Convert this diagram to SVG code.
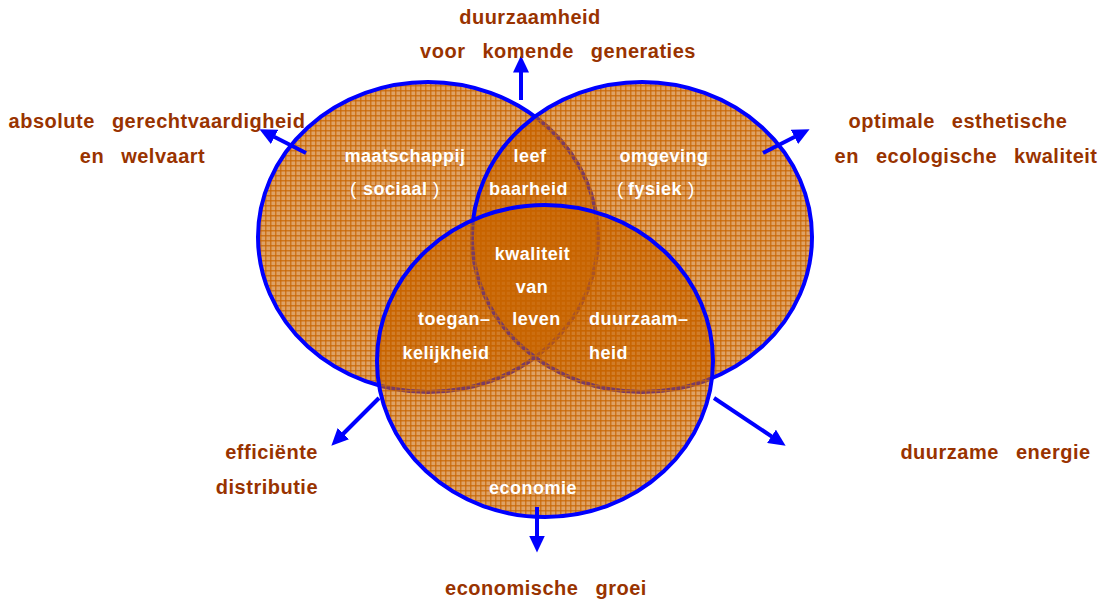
<svg xmlns="http://www.w3.org/2000/svg" width="1098" height="600" viewBox="0 0 1098 600">
  <defs>
    <!-- woven orange texture: translucent base with denser threads -->
    <pattern id="weave" width="5" height="5" patternUnits="userSpaceOnUse">
      <rect width="5" height="5" fill="#C86400" fill-opacity="0.6"/>
      <rect x="0" y="0" width="1.5" height="5" fill="#C86400" fill-opacity="0.72"/>
      <rect x="0" y="0" width="5" height="1.5" fill="#C86400" fill-opacity="0.72"/>
    </pattern>
    <marker id="head" markerUnits="userSpaceOnUse" markerWidth="17" markerHeight="16" viewBox="0 0 17 16" refX="0.5" refY="8" orient="auto">
      <path d="M0,0 L17,8 L0,16 z" fill="#0000FF"/>
    </marker>
    <style>
      .ring { fill: url(#weave); stroke: #0000FF; stroke-width: 4; }
      .goal { font-family: "Liberation Sans", Arial, sans-serif; font-weight: bold; font-size: 20px; fill: #993300; letter-spacing: 0.5px; word-spacing: 11px; }
      .area { font-family: "Liberation Sans", Arial, sans-serif; font-weight: bold; font-size: 18px; fill: #FFFFFF; letter-spacing: 0.5px; }
      .paren { font-weight: normal; font-size: 19px; }
      .link { stroke: #0000FF; stroke-width: 4; fill: none; marker-end: url(#head); }
    </style>
  </defs>

  <rect width="1098" height="600" fill="#FFFFFF"/>

  <!-- the three overlapping domains -->
  <g id="sociaal">
    <ellipse class="ring" cx="428" cy="237" rx="170" ry="155"/>
  </g>
  <g id="fysiek">
    <ellipse class="ring" cx="642" cy="237" rx="170" ry="155"/>
  </g>
  <g id="economie">
    <ellipse class="ring" cx="545" cy="361" rx="168" ry="156"/>
  </g>

  <!-- region labels -->
  <g id="labels-sociaal" class="area">
    <text x="405" y="162" text-anchor="middle">maatschappij</text>
    <text y="195"><tspan class="paren" x="350">(</tspan><tspan x="363">sociaal</tspan><tspan class="paren" x="433">)</tspan></text>
  </g>
  <g id="labels-fysiek" class="area">
    <text x="664" y="162" text-anchor="middle">omgeving</text>
    <text y="195"><tspan class="paren" x="617">(</tspan><tspan x="628">fysiek</tspan><tspan class="paren" x="688">)</tspan></text>
  </g>
  <g id="labels-leefbaarheid" class="area">
    <text x="530" y="162" text-anchor="middle">leef</text>
    <text x="528.5" y="195" text-anchor="middle">baarheid</text>
  </g>
  <g id="labels-kwaliteit" class="area">
    <text x="532.5" y="260" text-anchor="middle">kwaliteit</text>
    <text x="532" y="293" text-anchor="middle">van</text>
    <text x="536.5" y="325" text-anchor="middle">leven</text>
  </g>
  <g id="labels-toegankelijkheid" class="area">
    <text x="418" y="325">toegan–</text>
    <text x="446" y="359" text-anchor="middle">kelijkheid</text>
  </g>
  <g id="labels-duurzaamheid" class="area">
    <text x="589" y="325">duurzaam–</text>
    <text x="589" y="359">heid</text>
  </g>
  <g id="labels-economie" class="area">
    <text x="533" y="494" text-anchor="middle">economie</text>
  </g>

  <!-- outward arrows -->
  <g id="connectors">
    <line class="link" x1="521" y1="100" x2="521" y2="72"/>
    <line class="link" x1="306" y1="153" x2="274.1" y2="136.7"/>
    <line class="link" x1="763" y1="153" x2="794.9" y2="136.7"/>
    <line class="link" x1="379" y1="398" x2="343" y2="434"/>
    <line class="link" x1="714" y1="398" x2="771.9" y2="436.6"/>
    <line class="link" x1="537" y1="507" x2="537" y2="536"/>
  </g>

  <!-- goals -->
  <g id="goal-generaties" class="goal">
    <text x="530" y="24" text-anchor="middle">duurzaamheid</text>
    <text x="558" y="58" text-anchor="middle">voor komende generaties</text>
  </g>
  <g id="goal-gerechtigheid" class="goal">
    <text x="157" y="128" text-anchor="middle">absolute gerechtvaardigheid</text>
    <text x="142.5" y="163" text-anchor="middle">en welvaart</text>
  </g>
  <g id="goal-kwaliteit" class="goal">
    <text x="958" y="128" text-anchor="middle">optimale esthetische</text>
    <text x="966" y="163" text-anchor="middle">en ecologische kwaliteit</text>
  </g>
  <g id="goal-distributie" class="goal">
    <text x="318" y="459" text-anchor="end">efficiënte</text>
    <text x="318" y="494" text-anchor="end">distributie</text>
  </g>
  <g id="goal-energie" class="goal">
    <text x="995.5" y="459" text-anchor="middle">duurzame energie</text>
  </g>
  <g id="goal-groei" class="goal">
    <text x="546" y="595" text-anchor="middle">economische groei</text>
  </g>
</svg>
